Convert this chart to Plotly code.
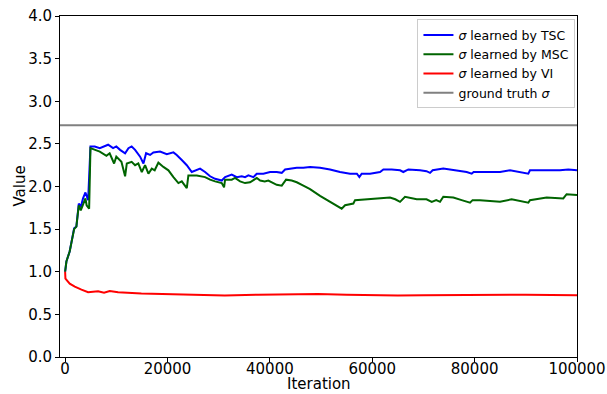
import plotly.graph_objects as go

# ---- data ----
iter_tsc = [0, 250, 900, 1370, 1760, 2200, 2670, 3060, 3500, 3970, 4500, 4950, 5800, 6770, 8400, 9370,
            10000, 10740, 11720, 12370, 13000, 13670, 14650, 15300, 15820, 16600, 17240, 18550, 19860,
            21160, 21800, 22790, 23770, 24740, 25400, 26370, 27340, 28320, 29300, 30270, 30600, 31250,
            32550, 33530, 34510, 35150, 35800, 36780, 37440, 38730, 40040, 41340, 42320, 42970, 43940,
            45250, 46540, 47850, 49800, 51750, 53700, 55660, 57000, 57480, 57940, 59570, 61520, 62170,
            63800, 65430, 66070, 67050, 69330, 70600, 71290, 71800, 73880, 76500, 78450, 79430, 79800,
            83000, 84960, 86910, 90490, 90810, 96670, 98300, 100000]
val_tsc = [1.00, 1.12, 1.24, 1.37, 1.51, 1.53, 1.80, 1.76, 1.86, 1.93, 1.84, 2.47, 2.47, 2.45, 2.49, 2.45,
           2.47, 2.43, 2.39, 2.45, 2.47, 2.43, 2.35, 2.27, 2.39, 2.37, 2.40, 2.41, 2.38,
           2.40, 2.37, 2.31, 2.25, 2.17, 2.19, 2.21, 2.17, 2.12, 2.09, 2.07, 2.07, 2.11,
           2.14, 2.11, 2.12, 2.11, 2.13, 2.11, 2.15, 2.15, 2.17, 2.17, 2.16, 2.20, 2.21,
           2.22, 2.22, 2.23, 2.22, 2.20, 2.17, 2.15, 2.15, 2.11, 2.15, 2.15, 2.17, 2.20,
           2.20, 2.19, 2.17, 2.20, 2.19, 2.18, 2.16, 2.19, 2.21, 2.19, 2.17, 2.15, 2.17,
           2.17, 2.17, 2.19, 2.15, 2.19, 2.19, 2.20, 2.19]

iter_msc = [0, 250, 900, 1370, 1760, 2200, 2670, 3060, 3500, 3970, 4200, 4690, 4950, 5800, 6770, 8070,
            8700, 9570, 10000, 11000, 11720, 12050, 13000, 13670, 14300, 14980, 15620, 16270, 16930,
            17500, 18220, 19200, 20180, 21160, 22130, 22790, 23770, 24080, 25720, 27340, 28320, 29300,
            30270, 30600, 31050, 31250, 32550, 33200, 34180, 35150, 36130, 37440, 38100, 39000, 39700,
            40370, 41340, 42320, 43160, 44270, 45250, 46540, 47850, 49800, 51750, 53060, 54030, 54690,
            56310, 56640, 58920, 61520, 63470, 64500, 65430, 66400, 68690, 70600, 71620, 72500, 73240,
            73880, 75840, 77470, 79100, 79600, 81050, 84960, 87240, 90490, 90810, 94070, 97320, 97970,
            100000]
val_msc = [1.00, 1.12, 1.24, 1.37, 1.50, 1.53, 1.78, 1.72, 1.80, 1.86, 1.78, 1.74, 2.45, 2.43, 2.41, 2.36,
           2.39, 2.27, 2.35, 2.29, 2.12, 2.27, 2.29, 2.25, 2.27, 2.17, 2.25, 2.15, 2.21,
           2.19, 2.28, 2.23, 2.19, 2.11, 2.04, 2.06, 1.98, 2.13, 2.13, 2.11, 2.08, 2.06,
           2.05, 2.04, 1.99, 2.08, 2.08, 2.10, 2.06, 2.04, 2.05, 2.10, 2.07, 2.06, 2.07,
           2.05, 2.02, 2.01, 2.08, 2.07, 2.05, 2.01, 1.97, 1.89, 1.82, 1.78, 1.74, 1.78,
           1.80, 1.84, 1.85, 1.86, 1.87, 1.85, 1.82, 1.88, 1.85, 1.85, 1.82, 1.84, 1.82,
           1.88, 1.87, 1.84, 1.81, 1.84, 1.84, 1.82, 1.85, 1.81, 1.84, 1.87, 1.86, 1.91,
           1.90]

iter_vi = [0, 60, 900, 1890, 3190, 4490, 6440, 7600, 8720, 10350, 14900, 18160, 24670, 31190, 37690,
           44200, 49410, 55000, 60000, 65000, 70000, 80000, 90000, 100000]
val_vi = [1.00, 0.92, 0.86, 0.825, 0.79, 0.76, 0.77, 0.755, 0.775, 0.76, 0.745, 0.74, 0.735, 0.72, 0.73,
          0.74, 0.74, 0.73, 0.725, 0.72, 0.725, 0.73, 0.73, 0.725]

ground_truth = 2.718
x_ticks = [0, 20000, 40000, 60000, 80000, 100000]
y_ticks = [0.0, 0.5, 1.0, 1.5, 2.0, 2.5, 3.0, 3.5, 4.0]

FONT = "DejaVu Sans"

fig = go.Figure()
fig.add_trace(go.Scatter(x=iter_tsc, y=val_tsc, mode="lines", name="<i>σ</i> learned by TSC",
                         line=dict(color="#0000ff", width=2)))
fig.add_trace(go.Scatter(x=iter_msc, y=val_msc, mode="lines", name="<i>σ</i> learned by MSC",
                         line=dict(color="#006400", width=2)))
fig.add_trace(go.Scatter(x=iter_vi, y=val_vi, mode="lines", name="<i>σ</i> learned by VI",
                         line=dict(color="#ff0000", width=2)))
fig.add_trace(go.Scatter(x=[-1000, 100000], y=[ground_truth, ground_truth], mode="lines",
                         name="ground truth <i>σ</i>", line=dict(color="#808080", width=2)))

axis_common = dict(showline=True, mirror=True, linecolor="black", linewidth=1,
                   ticks="outside", ticklen=4, tickwidth=1, tickcolor="black",
                   showgrid=False, zeroline=False, automargin=False,
                   tickfont=dict(size=15, color="black", family=FONT))

fig.update_layout(
    width=607, height=394,
    margin=dict(l=60, r=30, t=16, b=37),
    paper_bgcolor="white", plot_bgcolor="white",
    font=dict(family=FONT, color="black"),
    xaxis=dict(range=[-1000, 100000], tickvals=x_ticks, ticktext=[str(v) for v in x_ticks],
               ticklabelstandoff=-6, **axis_common),
    yaxis=dict(range=[0, 4], tickvals=y_ticks, ticktext=[f"{v:.1f}" for v in y_ticks],
               **axis_common),
    legend=dict(x=0.997, y=0.99, xanchor="right", yanchor="top",
                bgcolor="rgba(255,255,255,0.9)", bordercolor="#cccccc", borderwidth=1,
                font=dict(size=12.5, family=FONT), itemwidth=30, tracegroupgap=0),
    showlegend=True,
    annotations=[
        dict(text="Iteration", xref="paper", yref="paper", x=0.5, y=(357 - 394) / 341,
             xanchor="center", yanchor="bottom", borderpad=0, showarrow=False,
             font=dict(size=15, family=FONT)),
        dict(text="Value", xref="paper", yref="paper", x=(19 - 60) / 517, y=0.5, textangle=-90,
             xanchor="center", yanchor="middle", showarrow=False, font=dict(size=15, family=FONT)),
    ],
)

fig.write_html("out.html")
